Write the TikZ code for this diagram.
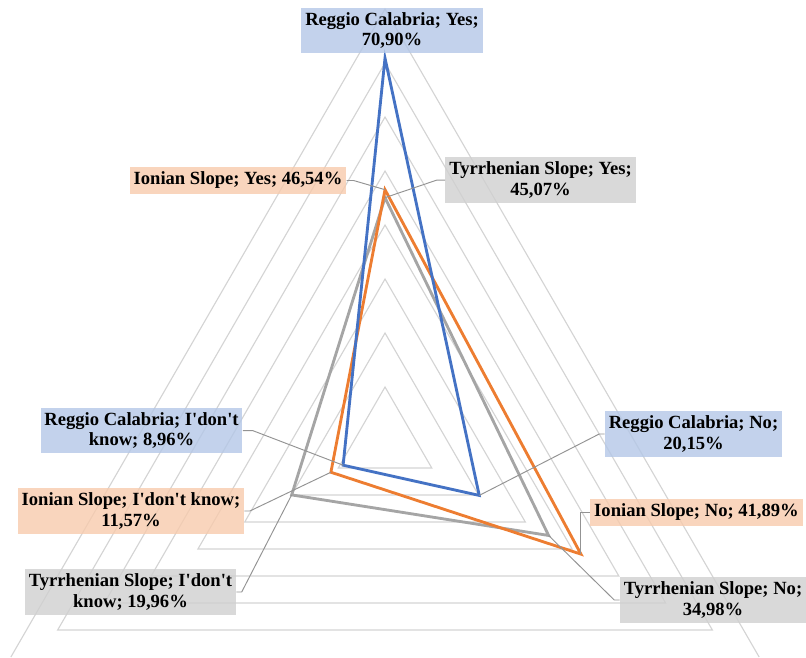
\documentclass[tikz,border=0pt]{standalone}
\usepackage{fontspec}
\setmainfont{Liberation Serif}
\usepackage{xcolor}
\definecolor{rcBlue}{HTML}{4472C4}
\definecolor{isOrange}{HTML}{ED7D31}
\definecolor{tsGray}{HTML}{A5A5A5}
\definecolor{rcFill}{HTML}{B4C7E7}
\definecolor{isFill}{HTML}{F8CBAD}
\definecolor{tsFill}{HTML}{D0D0D0}
\definecolor{gridGray}{HTML}{D4D4D4}
\newcommand{\apos}{\textquotesingle}

\begin{document}
\begin{tikzpicture}
[gridDecorate/.style={draw=gridGray,line width=0.6pt},
 seriesDecorate/.style={line width=1.5pt,line join=miter},
 leaderDecorate/.style={draw=gray!85,line width=0.5pt},
 labelDecorate/.style={fill opacity=0.8,text opacity=1,inner xsep=2pt,inner ysep=2.5pt,align=center,font=\fontsize{9.8}{10.6}\selectfont\bfseries}]

 \useasboundingbox (-7.130,-4.0) rectangle (7.796,8.167);

 \foreach \i in {1,2,3,4,5,6,7}
 {
   \draw[gridDecorate] (90:\i) -- (-30:\i) -- (210:\i) -- cycle;
 }
 % outer ring, base falls on the lower edge
 \draw[gridDecorate] (-30:8) -- (90:8) -- (210:8);

 \coordinate (RcYes) at (90:7.090);
 \coordinate (RcNo) at (-30:2.015);
 \coordinate (RcIdk) at (210:0.896);
 \coordinate (IsYes) at (90:4.654);
 \coordinate (IsNo) at (-30:4.189);
 \coordinate (IsIdk) at (210:1.157);
 \coordinate (TsYes) at (90:4.507);
 \coordinate (TsNo) at (-30:3.498);
 \coordinate (TsIdk) at (210:1.996);

 \draw[seriesDecorate, tsGray] (TsYes) -- (TsNo) -- (TsIdk) -- cycle;
 \draw[seriesDecorate, isOrange] (IsYes) -- (IsNo) -- (IsIdk) -- cycle;
 \draw[seriesDecorate, rcBlue] (RcYes) -- (RcNo) -- (RcIdk) -- cycle;

 \node (LRcYes) at (0.130,7.602) [labelDecorate, fill=rcFill] {Reggio Calabria; Yes;\\70,90\%};
 \node (LIsYes) at (-2.722,4.824) [labelDecorate, fill=isFill] {Ionian Slope; Yes; 46,54\%};
 \node (LTsYes) at (2.880,4.833) [labelDecorate, fill=tsFill] {Tyrrhenian Slope; Yes;\\45,07\%};
 \node (LRcIdk) at (-4.509,0.194) [labelDecorate, fill=rcFill] {Reggio Calabria; I\apos don\apos t\\know; 8,96\%};
 \node (LIsIdk) at (-4.704,-1.296) [labelDecorate, fill=isFill] {Ionian Slope; I\apos don\apos t know;\\11,57\%};
 \node (LTsIdk) at (-4.713,-2.796) [labelDecorate, fill=tsFill] {Tyrrhenian Slope; I\apos don\apos t\\know; 19,96\%};
 \node (LRcNo) at (5.713,0.130) [labelDecorate, fill=rcFill] {Reggio Calabria; No;\\20,15\%};
 \node (LIsNo) at (5.769,-1.324) [labelDecorate, fill=isFill] {Ionian Slope; No; 41,89\%};
 \node (LTsNo) at (6.074,-2.944) [labelDecorate, fill=tsFill] {Tyrrhenian Slope; No;\\34,98\%};

 % leader lines
 \draw[leaderDecorate] (LIsYes.east) -- ++(0.13,0) -- (IsYes);
 \draw[leaderDecorate] (TsYes) -- ([xshift=-0.15cm]LTsYes.west) -- (LTsYes.west);
 \draw[leaderDecorate] (LRcIdk.east) -- ++(0.18,0) -- (RcIdk);
 \draw[leaderDecorate] (LIsIdk.east) -- ++(0.1,0) -- (IsIdk);
 \draw[leaderDecorate] (LTsIdk.east) -- ++(0.1,0) -- (TsIdk);
 \draw[leaderDecorate] (RcNo) -- ([xshift=-0.1cm]LRcNo.west) -- (LRcNo.west);
 \draw[leaderDecorate] (IsNo) |- (LIsNo.west);
 \draw[leaderDecorate] (TsNo) -- ([xshift=-0.1cm]LTsNo.west) -- (LTsNo.west);
\end{tikzpicture}
\end{document}
